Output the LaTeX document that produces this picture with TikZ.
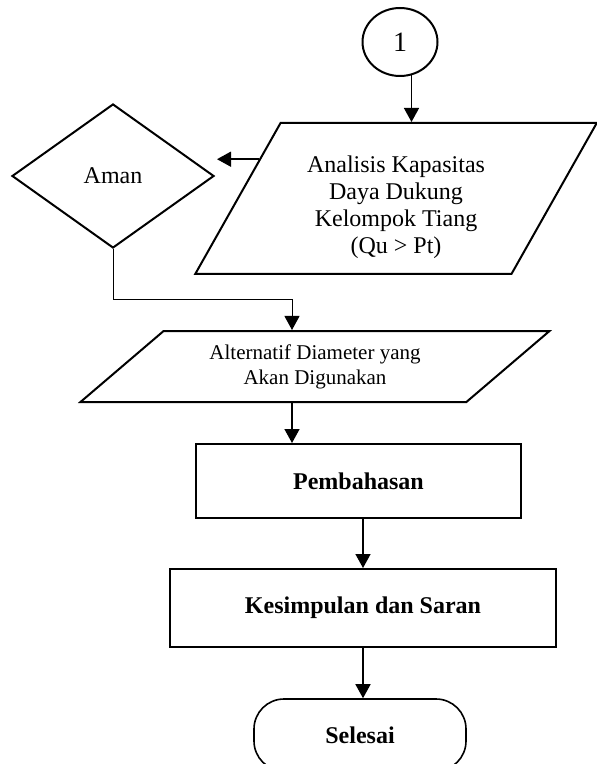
\documentclass[tikz,border=0pt]{standalone}
\usepackage{fontspec}
\setmainfont{Liberation Serif}
\usepackage{tikz}
\usetikzlibrary{shapes.geometric, arrows.meta}
\tikzstyle{conn} = [ellipse, minimum width=37.5pt, minimum height=34pt, inner sep=0pt, draw=black, line width=1pt, font=\fontsize{14}{16}\selectfont]
\tikzstyle{io} = [trapezium, trapezium stretches=true, inner sep=0pt, draw=black, line width=1pt, align=center]
\tikzstyle{decision} = [diamond, minimum width=101pt, minimum height=72pt, inner sep=0pt, draw=black, line width=1pt, font=\fontsize{12}{14}\selectfont]
\tikzstyle{box1} = [rectangle, minimum height=37pt, draw=black, line width=1pt, align=center, font=\bfseries\fontsize{12}{14}\selectfont]
\tikzstyle{term} = [rectangle, rounded corners=15pt, minimum width=106pt, minimum height=36pt, draw=black, line width=0.8pt, font=\bfseries\fontsize{12}{14}\selectfont]
\tikzstyle{arrow} = [line width=0.75pt, -{Triangle[length=7pt, width=7.5pt]}]
\usetikzlibrary{positioning}

\begin{document}
\begin{tikzpicture}[x=0.5pt, y=-0.5pt]
	\useasboundingbox (0,0) rectangle (597,764);
	
	\node (one) [conn] at (400,42) {1};
	\node (ana) [io, trapezium left angle=61.5, trapezium right angle=118.5, minimum width=201pt, minimum height=75.5pt, font=\fontsize{12}{13.5}\selectfont, node distance=78.25pt, below of=one, xshift=-2pt] {
		\rule{0pt}{17.5pt}Analisis Kapasitas\\
		Daya Dukung\\
		Kelompok Tiang\\
		(Qu > Pt)};
	\node (aman) [decision, node distance=141.5pt, left of=ana, yshift=11.25pt] {Aman};
	\node (alt) [io, trapezium left angle=37.4, trapezium right angle=142.6, minimum width=235pt, minimum height=35.5pt, font=\fontsize{10.5}{12.5}\selectfont, node distance=84pt, below of=ana, xshift=-40.5pt] {
		Alternatif Diameter yang\\
		Akan Digunakan};
	\node (bahas) [box1, minimum width=162.5pt, node distance=57.25pt, below of=alt, xshift=21.75pt] {Pembahasan};
	\node (simpul) [box1, minimum width=193pt, minimum height=39pt, node distance=63.5pt, below of=bahas, xshift=2.25pt] {Kesimpulan dan Saran};
	\node (fin) [term, node distance=63.5pt, below of=simpul, xshift=-1.5pt] {Selesai};
	
	\coordinate (amanin) at (217,160);
	\coordinate (altin) at ([xshift=-11.5pt]alt.center);
	
	\draw [arrow] (one.-71) -- (one.-71 |- ana.north);
	\draw [arrow] (ana.164.5) -- (ana.164.5 -| amanin);
	\draw [arrow, line width=0.5pt] (aman.south) -- ++(0,-25pt) -| (altin |- alt.north);
	\draw [arrow] (altin |- alt.south) -- (altin |- bahas.north);
	\draw [arrow] (simpul.north |- bahas.south) -- (simpul.north);
	\draw [arrow] (simpul.south) -- (simpul.south |- fin.north);
\end{tikzpicture}
\end{document}
